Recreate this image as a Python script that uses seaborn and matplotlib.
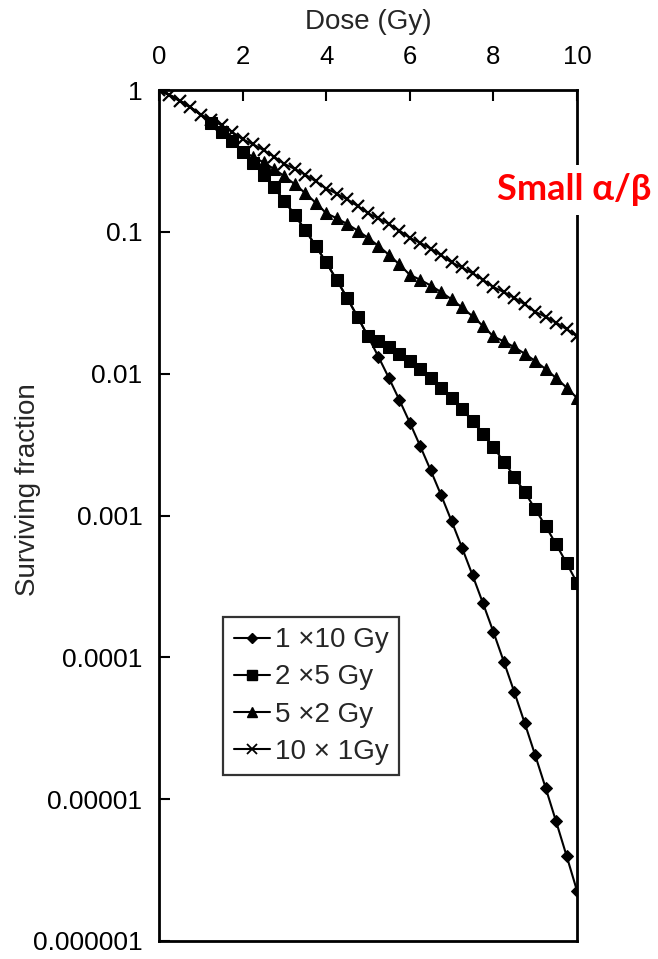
import numpy as np
import pandas as pd
import matplotlib
matplotlib.use("Agg")
import matplotlib.pyplot as plt
import seaborn as sns
from matplotlib.lines import Line2D

dose = [0.0, 0.25, 0.5, 0.75, 1.0, 1.25, 1.5, 1.75, 2.0, 2.25, 2.5, 2.75, 3.0, 3.25,
        3.5, 3.75, 4.0, 4.25, 4.5, 4.75, 5.0, 5.25, 5.5, 5.75, 6.0, 6.25, 6.5, 6.75,
        7.0, 7.25, 7.5, 7.75, 8.0, 8.25, 8.5, 8.75, 9.0, 9.25, 9.5, 9.75, 10.0]

sf_1x10 = [1.0, 0.922, 0.8395, 0.7548, 0.6703, 0.5879, 0.5092, 0.4355, 0.3679, 0.3069,
           0.2528, 0.2057, 0.1653, 0.1312, 0.1028, 0.0796, 0.0608, 0.0459, 0.0342, 0.0252,
           0.0183, 0.01315, 0.00932, 0.00653, 0.00452, 0.00308, 0.00208, 0.00139, 0.000912,
           0.000592, 0.00038, 0.000241, 0.000151, 9.31e-5, 5.69e-5, 3.43e-5, 2.04e-5,
           1.2e-5, 6.96e-6, 3.99e-6, 2.26e-6]

sf_2x5 = [1.0, 0.922, 0.8395, 0.7548, 0.6703, 0.5879, 0.5092, 0.4355, 0.3679, 0.3069,
          0.2528, 0.2057, 0.1653, 0.1312, 0.1028, 0.0796, 0.0608, 0.0459, 0.0342, 0.0252,
          0.0183, 0.01689, 0.01538, 0.01383, 0.01228, 0.01077, 0.00933, 0.00798, 0.00674,
          0.00562, 0.00463, 0.00377, 0.00303, 0.0024, 0.00188, 0.00146, 0.00111,
          0.000841, 0.000627, 0.000462, 0.000336]

sf_5x2 = [1.0, 0.922, 0.8395, 0.7548, 0.6703, 0.5879, 0.5092, 0.4355, 0.3679, 0.3392,
          0.3088, 0.2777, 0.2466, 0.2163, 0.1873, 0.1602, 0.1353, 0.1247, 0.1136, 0.1021,
          0.0907, 0.0795, 0.0689, 0.0589, 0.0498, 0.0459, 0.0418, 0.0376, 0.0334,
          0.0293, 0.0254, 0.0217, 0.0183, 0.01689, 0.01538, 0.01383, 0.01228,
          0.01077, 0.00933, 0.00798, 0.00674]

sf_10x1 = [1.0, 0.922, 0.8395, 0.7548, 0.6703, 0.618, 0.5627, 0.5059, 0.4493, 0.4143,
           0.3772, 0.3391, 0.3012, 0.2777, 0.2529, 0.2273, 0.2019, 0.1862, 0.1695, 0.1524,
           0.1353, 0.1247, 0.1136, 0.1021, 0.0907, 0.0836, 0.0761, 0.0685, 0.0608,
           0.0561, 0.051, 0.0459, 0.0408, 0.0376, 0.0343, 0.0308, 0.0273, 0.0252,
           0.0229, 0.0206, 0.0183]

series_labels = ["1 \u00d710 Gy", "2 \u00d75 Gy", "5 \u00d72 Gy", "10 \u00d7 1Gy"]
x_ticks = [0, 2, 4, 6, 8, 10]
y_ticks = [1, 0.1, 0.01, 0.001, 0.0001, 0.00001, 0.000001]
y_tick_labels = ["1", "0.1", "0.01", "0.001", "0.0001", "0.00001", "0.000001"]

sns.set_style("ticks")
plt.rcParams["font.family"] = ["Liberation Sans", "DejaVu Sans"]

fig = plt.figure(figsize=(6.58, 9.59), dpi=100)
ax = fig.add_axes([159/658, 1-941/959, 418/658, 851/959])

frames = []
for lab, vals in zip(series_labels, [sf_1x10, sf_2x5, sf_5x2, sf_10x1]):
    frames.append(pd.DataFrame({"dose": dose, "sf": vals, "series": lab}))
df = pd.concat(frames, ignore_index=True)

styles = {
    series_labels[0]: dict(marker="D", markersize=5.8, markevery=slice(21, None), zorder=2),
    series_labels[2]: dict(marker="^", markersize=9, markevery=slice(9, None), zorder=3),
    series_labels[1]: dict(marker="s", markersize=8, markevery=slice(5, None), zorder=4),
    series_labels[3]: dict(marker="x", markersize=8, markevery=None, zorder=5,
                           markeredgewidth=1.6),
}
for lab in [series_labels[0], series_labels[2], series_labels[1], series_labels[3]]:
    st = dict(styles[lab])
    sub = df[df["series"] == lab]
    sns.lineplot(data=sub, x="dose", y="sf", ax=ax, color="black", linewidth=1.5,
                 markeredgecolor="black", markerfacecolor="black",
                 legend=False, **st)

ax.set_yscale("log")
ax.set_xlim(0, 10)
ax.set_ylim(1e-6, 1)
ax.set_xticks(x_ticks)
ax.set_xticklabels([str(t) for t in x_ticks])
ax.set_yticks(y_ticks)
ax.set_yticklabels(y_tick_labels)
ax.yaxis.set_minor_locator(matplotlib.ticker.NullLocator())
ax.xaxis.tick_top()
ax.xaxis.set_label_position("top")
ax.tick_params(axis="both", direction="in", length=8, width=1.5, colors="black")
ax.tick_params(axis="x", labelsize=18.5, pad=15)
ax.tick_params(axis="y", labelsize=19, pad=12)
for s in ax.spines.values():
    s.set_visible(True)
    s.set_linewidth(2)
    s.set_color("black")
ax.set_xlabel("Dose (Gy)", fontsize=20, labelpad=12)
ax.set_ylabel("Surviving fraction", fontsize=20)
ax.yaxis.set_label_coords(-0.282, 0.53)

handles = [
    Line2D([], [], color="black", lw=1.5, marker="D", markersize=5),
    Line2D([], [], color="black", lw=1.5, marker="s", markersize=6.5),
    Line2D([], [], color="black", lw=1.5, marker="^", markersize=7.5),
    Line2D([], [], color="black", lw=1.5, marker="x", markersize=6.5, markeredgewidth=1.3),
]
leg = ax.legend(handles, series_labels, loc="upper left", bbox_to_anchor=(0.153, 0.381),
                borderaxespad=0, fontsize=20, frameon=True, fancybox=False,
                handlelength=1.3, handletextpad=0.2, labelspacing=0.4,
                borderpad=0.38)
leg.get_frame().set_edgecolor("black")
leg.get_frame().set_linewidth(1.6)

fig.text(574/658, 1-190/959, "Small \u03b1/\u03b2", color="red", fontsize=26,
         fontweight="bold", ha="center", va="center",
         family=["Lato", "Open Sans", "DejaVu Sans"],
         bbox=dict(facecolor="white", edgecolor="none", pad=6))

fig.savefig("out.png", dpi=100)
